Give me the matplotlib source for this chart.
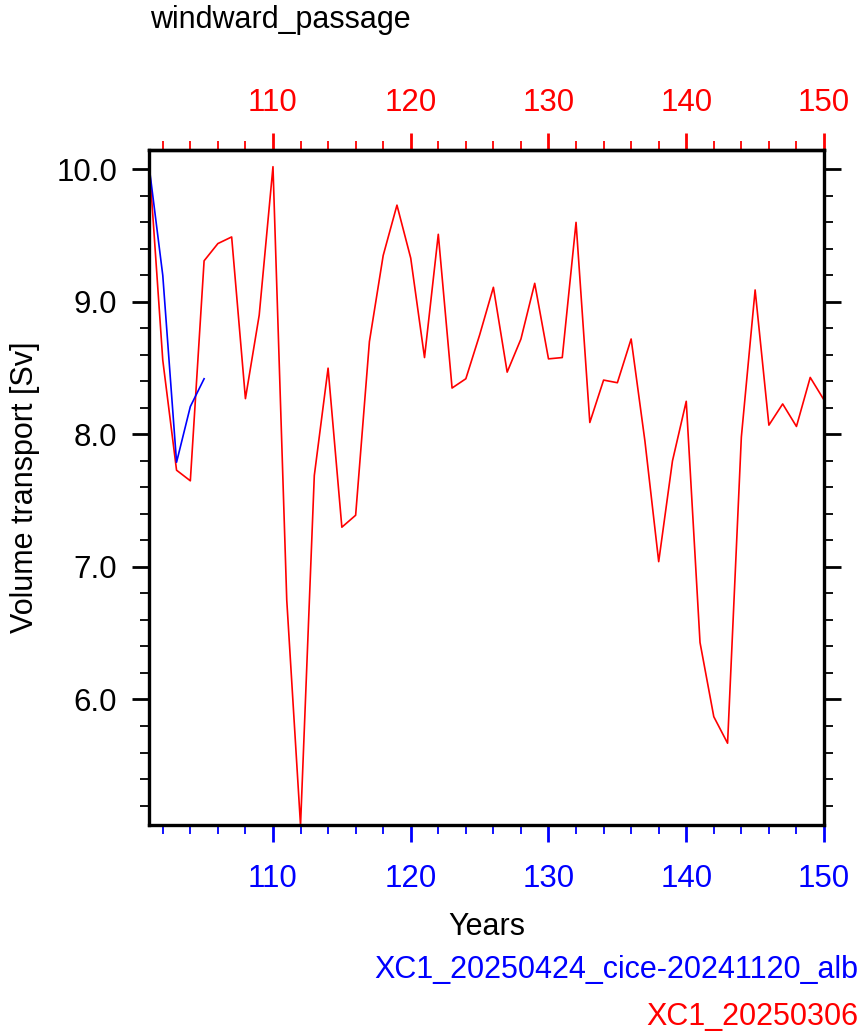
import numpy as np
import matplotlib
matplotlib.use('Agg')
import matplotlib.pyplot as plt
from matplotlib.ticker import MultipleLocator

plt.rcParams['font.family'] = ['Liberation Sans', 'DejaVu Sans']

# data
years_red = np.arange(101, 151)
vt_red = [10.07, 8.56, 7.73, 7.65, 9.31, 9.44, 9.49, 8.27, 8.90, 10.02,
          6.75, 5.05, 7.69, 8.50, 7.30, 7.39, 8.70, 9.35, 9.73, 9.33,
          8.58, 9.51, 8.35, 8.42, 8.75, 9.11, 8.47, 8.72, 9.14, 8.57,
          8.58, 9.60, 8.09, 8.41, 8.39, 8.72, 7.95, 7.04, 7.80, 8.25,
          6.43, 5.87, 5.67, 7.98, 9.09, 8.07, 8.23, 8.06, 8.43, 8.26]
years_blue = np.arange(101, 106)
vt_blue = [10.03, 9.20, 7.79, 8.21, 8.42]

name_blue = 'XC1_20250424_cice-20241120_alb'
name_red = 'XC1_20250306'
title = 'windward_passage'

W, H = 863, 1036
fig = plt.figure(figsize=(W/100, H/100), dpi=100)
ax = fig.add_axes([149/W, 1-825/H, (824-149)/W, (825-150)/H])

ax.plot(years_red, vt_red, color='red', lw=1.2)
ax.plot(years_blue, vt_blue, color='blue', lw=1.2)

ax.set_xlim(101, 150)
ax.set_ylim(5.053, 10.146)

for s in ax.spines.values():
    s.set_linewidth(2.4)

fs = 22
tfs = 22.5
ax.xaxis.set_major_locator(MultipleLocator(10))
ax.xaxis.set_minor_locator(MultipleLocator(2))
ax.yaxis.set_major_locator(MultipleLocator(1))
ax.yaxis.set_minor_locator(MultipleLocator(0.2))
ax.yaxis.set_major_formatter(plt.FormatStrFormatter('%.1f'))

ax.tick_params(axis='x', which='major', direction='out', length=12, width=2,
               color='blue', labelcolor='blue', labelsize=tfs, pad=16)
ax.tick_params(axis='x', which='minor', direction='out', length=6.5, width=1.3,
               color='blue')
ax.tick_params(axis='y', which='major', direction='out', length=12, width=2,
               labelsize=tfs, pad=11, right=True)
ax.tick_params(axis='y', which='minor', direction='out', length=6.5, width=1.3,
               right=True)

top = ax.secondary_xaxis('top')
top.xaxis.set_major_locator(MultipleLocator(10))
top.xaxis.set_minor_locator(MultipleLocator(2))
top.tick_params(axis='x', which='major', direction='out', length=12, width=2,
                color='red', labelcolor='red', labelsize=tfs, pad=11)
top.tick_params(axis='x', which='minor', direction='out', length=6.5, width=1.3,
                color='red')
top.spines['top'].set_linewidth(2.4)

ax.set_xlabel('Years', fontsize=fs, labelpad=13)
ax.set_ylabel('Volume transport [Sv]', fontsize=fs, labelpad=12)

fig.text(150/W, 1-20/H, title, fontsize=fs, ha='left', va='center')
fig.text(858/W, 1-970/H, name_blue, fontsize=fs, color='blue', ha='right', va='center')
fig.text(858/W, 1-1017/H, name_red, fontsize=fs, color='red', ha='right', va='center')

fig.savefig('out.png', dpi=100)
